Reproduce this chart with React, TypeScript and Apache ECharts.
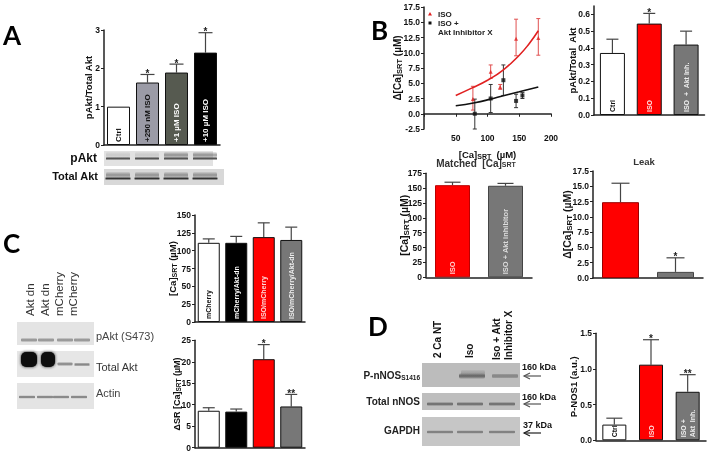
import React, { useEffect, useRef } from "react";
import * as echarts from "echarts";

const FONT = "'Liberation Sans', Arial, sans-serif";

// Panel A
const aCats = ["Ctrl", "+250 nM ISO", "+1 µM ISO", "+10 µM ISO"];
const aVals = [1.0, 1.63, 1.89, 2.41];
const aTops = [1.0, 1.84, 2.11, 2.93];
const aStars = ["", "*", "*", "*"];
// Panel B curve
const bRedCurveX = [50, 75, 100, 125, 150, 165, 180];
const bRedCurveY = [3.0, 4.2, 5.5, 7.2, 9.6, 11.4, 13.6];
const bBlackCurveX = [50, 80, 105, 125, 150, 180];
const bBlackCurveY = [1.3, 1.8, 2.4, 2.95, 3.6, 4.4];
const bRedX = [77, 105, 120, 145, 180];
const bRedY = [2.4, 6.9, 4.4, 12.3, 12.4];
const bRedLow = [0.6, 5.8, 4.0, 9.5, 9.6];
const bRedHigh = [4.5, 8.0, 4.8, 15.5, 15.6];
const bBlackX = [80, 105, 125, 145, 155];
const bBlackY = [0.0, 2.5, 5.5, 2.1, 3.0];
const bBlackLow = [-2.5, 0.2, 3.0, 1.0, 2.5];
const bBlackHigh = [2.4, 4.8, 8.0, 3.2, 3.5];
// Panel B bars
const b2Cats = ["Ctrl", "ISO", "ISO  +  Akt Inh."];
const b2Vals = [0.37, 0.545, 0.42];
const b2Tops = [0.452, 0.606, 0.5];
const b2Stars = ["", "*", ""];
const mCats = ["ISO", "ISO + Akt inhibitor"];
const mVals = [155, 154];
const mTops = [160, 158];
const lVals = [12.4, 1.0];
const lTops = [15.5, 3.3];
const lStars = ["", "*"];
// Panel C
const cCats = ["mCherry", "mCherry/Akt-dn", "ISO/mCherry", "ISO/mCherry/Akt-dn"];
const cVals = [111, 111, 119, 115];
const cTops = [116.5, 120, 139, 133];
const c2Vals = [8.6, 8.4, 20.6, 9.6];
const c2Tops = [9.3, 9.0, 24, 12.4];
const c2Stars = ["", "", "*", "**"];
// Panel D
const dCats = ["Ctrl", "ISO", "ISO +\nAkt  Inh."];
const dVals = [0.22, 1.06, 0.68];
const dTops = [0.31, 1.41, 0.92];
const dStars = ["", "*", "**"];

const WHITE = "#ffffff", RED = "#ff0000", GRAY = "#777777", BLACK = "#000000";

function App() {
  const ref = useRef<HTMLDivElement>(null);
  useEffect(() => {
    const chart = echarts.init(ref.current!, undefined, { renderer: "svg" });

    const grid: any[] = [], xAxis: any[] = [], yAxis: any[] = [], series: any[] = [];
    const axisLine = { show: true, lineStyle: { color: "#222", width: 1.5 } };
    const axisTick = { show: true, length: 3, lineStyle: { color: "#222", width: 1 } };
    const rich = (fs: number) => ({
      s: { fontSize: fs - 2.5, fontWeight: "bold", fontFamily: FONT, color: "#111", padding: [4, 0, 0, 0] },
    });

    function barPanel(o: any) {
      const i = grid.length;
      grid.push({ left: o.left, top: o.top, width: o.width, height: o.height, containLabel: false });
      xAxis.push({
        gridIndex: i, type: "category", data: o.vals.map((_: any, k: number) => (o.cats ? o.cats[k] : String(k))),
        axisLine, axisTick: { show: false }, axisLabel: { show: false },
      });
      const fmt = (v: number) => (o.digits ? v.toFixed(o.digits) : String(v));
      const custom = o.ticks
        ? { customValues: o.ticks }
        : {};
      yAxis.push({
        gridIndex: i, type: "value", min: 0, max: o.max, interval: o.interval,
        splitLine: { show: false }, axisLine, axisTick: { ...axisTick, ...custom },
        axisLabel: { ...custom, fontFamily: FONT, fontWeight: "bold", fontSize: 8.5, color: "#111", margin: 4, formatter: fmt },
        name: o.name, nameLocation: "middle", nameGap: o.nameGap, nameRotate: 90, nameMoveOverlap: false,
        nameTextStyle: { fontFamily: FONT, fontWeight: "bold", fontSize: o.nameSize || 10, color: "#111", rich: rich(o.nameSize || 10) },
      });
      series.push({
        type: "bar", xAxisIndex: i, yAxisIndex: i, barWidth: o.barWidth, silent: true,
        data: o.vals.map((v: number, k: number) => ({
          value: v,
          itemStyle: { color: o.colors[k], borderColor: o.borders ? o.borders[k] : "#111", borderWidth: 1 },
          label: {
            show: !!o.cats, position: "insideBottom", rotate: 90, align: "left", verticalAlign: "middle", distance: 3,
            fontFamily: FONT, fontWeight: "bold", fontSize: o.labelSize || 8, lineHeight: 9,
            color: o.labelColors ? o.labelColors[k] : "#fff",
            formatter: o.cats ? o.cats[k] : "",
          },
        })),
      });
      series.push({
        type: "custom", xAxisIndex: i, yAxisIndex: i, silent: true, z: 1,
        data: o.vals.map((v: number, k: number) => [k, v, o.tops[k]]),
        encode: { x: 0, y: 2 },
        renderItem: (p: any, api: any) => {
          const k = p.dataIndex;
          const a = api.coord([api.value(0), api.value(1)]);
          const b = api.coord([api.value(0), api.value(2)]);
          const col = o.errColors ? o.errColors[k] : "#444";
          const st = { stroke: col, lineWidth: 1.2 };
          const ch: any[] = [];
          if (api.value(2) > api.value(1)) {
            ch.push({ type: "line", shape: { x1: a[0], y1: a[1], x2: b[0], y2: b[1] }, style: st });
            ch.push({ type: "line", shape: { x1: a[0] - o.cap, y1: b[1], x2: a[0] + o.cap, y2: b[1] }, style: st });
          }
          if (o.stars && o.stars[k]) {
            ch.push({ type: "text", style: { text: o.stars[k], x: a[0], y: b[1] - 1, align: "center", verticalAlign: "middle", fill: "#222", font: `bold 10px ${FONT}` } });
          }
          return { type: "group", children: ch };
        },
      });
    }

    barPanel({ left: 104, top: 30, width: 116, height: 115, max: 3, interval: 1, cats: aCats, vals: aVals, tops: aTops, stars: aStars,
      colors: [WHITE, "#9b9ba6", "#565a50", BLACK], labelColors: ["#111", "#111", "#fff", "#fff"], barWidth: 23, cap: 7,
      name: "pAkt/Total Akt", nameGap: 11, nameSize: 9.5, labelSize: 8 });
    barPanel({ left: 594, top: 6, width: 110.5, height: 109, max: 0.65, interval: 0.1, ticks: [0, 0.1, 0.2, 0.3, 0.4, 0.5, 0.6], digits: 1,
      cats: b2Cats, vals: b2Vals, tops: b2Tops, stars: b2Stars, colors: [WHITE, RED, GRAY], labelColors: ["#111", "#ffe0e0", "#eee"],
      barWidth: 25, cap: 6, name: "pAkt/Total  Akt", nameGap: 17, nameSize: 9.5, labelSize: 7 });
    barPanel({ left: 426, top: 173.3, width: 106, height: 104, max: 175, interval: 25, cats: mCats, vals: mVals, tops: mTops,
      colors: [RED, GRAY], labelColors: ["#ffd0d0", "#ddd"], barWidth: 35, cap: 8, borders: ["#b00", "#444"],
      name: "[Ca]{s|SRT} (µM)", nameGap: 16, nameSize: 10.5, labelSize: 7.5 });
    barPanel({ left: 593, top: 171, width: 110, height: 107, max: 17.5, interval: 2.5, digits: 1, vals: lVals, tops: lTops, stars: lStars,
      colors: [RED, GRAY], barWidth: 37, cap: 9, borders: ["#900", "#444"],
      name: "Δ[Ca]{s|SRT} (µM)", nameGap: 20, nameSize: 10.5 });
    barPanel({ left: 195, top: 215, width: 110, height: 107, max: 150, interval: 25, cats: cCats, vals: cVals, tops: cTops,
      colors: [WHITE, BLACK, RED, GRAY], labelColors: ["#111", "#fff", "#ffd8d8", "#eee"], barWidth: 22, cap: 6,
      name: "[Ca]{s|SRT} (µM)", nameGap: 17, nameSize: 9.5, labelSize: 7 });
    barPanel({ left: 195, top: 340.3, width: 110, height: 107.4, max: 25, interval: 5, vals: c2Vals, tops: c2Tops, stars: c2Stars,
      colors: [WHITE, BLACK, RED, GRAY], barWidth: 22, cap: 6,
      name: "ΔSR [Ca]{s|SRT} (µM)", nameGap: 13, nameSize: 9 });
    barPanel({ left: 596, top: 333.3, width: 110, height: 107, max: 1.5, interval: 0.5, digits: 1, cats: dCats, vals: dVals, tops: dTops, stars: dStars,
      colors: [WHITE, RED, GRAY], labelColors: ["#111", "#ffd8d8", "#eee"], barWidth: 24, cap: 8,
      name: "P-NOS1 (a.u.)", nameGap: 18, nameSize: 9.5, labelSize: 7 });

    // Scatter panel B
    const si = grid.length;
    grid.push({ left: 424, top: 7, width: 127, height: 122 });
    xAxis.push({
      gridIndex: si, type: "value", min: 0, max: 200, interval: 50, splitLine: { show: false },
      axisLine: { ...axisLine, onZero: true }, axisTick,
      axisLabel: { fontFamily: FONT, fontWeight: "bold", fontSize: 8.5, color: "#111", margin: 4, formatter: (v: number) => (v === 0 ? "" : String(v)) },
      name: "[Ca]{s|SRT}  (µM)", nameLocation: "middle", nameGap: 20, nameMoveOverlap: false,
      nameTextStyle: { fontFamily: FONT, fontWeight: "bold", fontSize: 9.5, color: "#111", rich: rich(9.5) },
    });
    yAxis.push({
      gridIndex: si, type: "value", min: -2.5, max: 17.5, interval: 2.5, splitLine: { show: false },
      axisLine: { ...axisLine, onZero: false }, axisTick,
      axisLabel: { fontFamily: FONT, fontWeight: "bold", fontSize: 8.5, color: "#111", margin: 4, formatter: (v: number) => v.toFixed(1) },
      name: "Δ[Ca]{s|SRT} (µM)", nameLocation: "middle", nameGap: 21, nameRotate: 90, nameMoveOverlap: false,
      nameTextStyle: { fontFamily: FONT, fontWeight: "bold", fontSize: 10, color: "#111", rich: rich(10) },
    });
    const curve = (xs: number[], ys: number[], color: string) => ({
      type: "line", xAxisIndex: si, yAxisIndex: si, smooth: true, showSymbol: false, silent: true,
      lineStyle: { color, width: 1.6 }, data: xs.map((x, k) => [x, ys[k]]),
    });
    const errs = (xs: number[], lo: number[], hi: number[], color: string) => ({
      type: "custom", xAxisIndex: si, yAxisIndex: si, silent: true,
      data: xs.map((x, k) => [x, lo[k], hi[k]]), encode: { x: 0, y: [1, 2] },
      renderItem: (_: any, api: any) => {
        const a = api.coord([api.value(0), api.value(1)]);
        const b = api.coord([api.value(0), api.value(2)]);
        const st = { stroke: color, lineWidth: 1 };
        return { type: "group", children: [
          { type: "line", shape: { x1: a[0], y1: a[1], x2: b[0], y2: b[1] }, style: st },
          { type: "line", shape: { x1: a[0] - 2, y1: a[1], x2: a[0] + 2, y2: a[1] }, style: st },
          { type: "line", shape: { x1: a[0] - 2, y1: b[1], x2: a[0] + 2, y2: b[1] }, style: st },
        ] };
      },
    });
    const pts = (xs: number[], ys: number[], color: string, symbol: string, size: number) => ({
      type: "scatter", xAxisIndex: si, yAxisIndex: si, silent: true, symbol, symbolSize: size,
      itemStyle: { color }, data: xs.map((x, k) => [x, ys[k]]),
    });
    series.push(
      curve(bRedCurveX, bRedCurveY, "#e02020"),
      curve(bBlackCurveX, bBlackCurveY, "#111"),
      errs(bRedX, bRedLow, bRedHigh, "#e05050"),
      errs(bBlackX, bBlackLow, bBlackHigh, "#333"),
      pts(bRedX, bRedY, "#e02020", "triangle", 4),
      pts(bBlackX, bBlackY, "#111", "rect", 4),
    );

    // ---- free graphics: blots, labels, panel letters
    const g: any[] = [];
    const letter = (t: string, x: number, y: number) =>
      g.push({ type: "text", x, y, style: { text: t, fill: "#000", font: `bold 26px Lato, ${FONT}`, align: "left", verticalAlign: "middle" } });
    const txt = (t: string, x: number, y: number, font: string, align = "left", fill = "#111", rot = 0) =>
      g.push({ type: "text", x, y, rotation: rot, style: { text: t, font, fill, align, verticalAlign: "middle" } });
    const box = (x: number, y: number, w: number, h: number, fill: string) =>
      g.push({ type: "rect", shape: { x, y, width: w, height: h }, style: { fill } });
    const band = (cx: number, cy: number, w: number, h: number, dark: string) =>
      g.push({
        type: "rect", shape: { x: cx - w / 2, y: cy - h / 2, width: w, height: h, r: h / 3 },
        style: {
          fill: new echarts.graphic.LinearGradient(0, 0, 0, 1, [
            { offset: 0, color: "rgba(60,60,60,0)" }, { offset: 0.5, color: dark }, { offset: 1, color: "rgba(60,60,60,0)" },
          ]),
        },
      });
    const R90 = Math.PI / 2;

    letter("A", 3, 35); letter("B", 371, 30); letter("C", 3, 243); letter("D", 368, 326);

    // A blots
    box(104, 151, 109, 15, "#e2e2e2");
    [118, 147, 176, 205].forEach((c, k) => {
      band(c, 158.5, 24, 4, "#555");
      band(c, 155, 24, 7, k > 1 ? "rgba(80,80,80,.55)" : "rgba(110,110,110,.2)");
    });
    box(104, 169, 120, 16, "#d8d8d8");
    [118, 147, 176, 205].forEach((c) => { band(c, 178.5, 25, 4, "#333"); band(c, 175, 24, 7, "rgba(90,90,90,.55)"); });
    txt("pAkt", 97, 158, `bold 12px ${FONT}`, "right");
    txt("Total Akt", 98, 176, `bold 11px ${FONT}`, "right");

    // C blots
    box(17, 322, 77, 23, "#e4e4e4");
    [29, 46, 65, 82].forEach((c) => band(c, 340, 16, 4, "#999"));
    box(17, 351, 77, 26, "#e6e6e6");
    band(65, 364, 15, 4, "#888"); band(82, 364.5, 15, 4, "#888");
    g.push({ type: "rect", shape: { x: 21, y: 352, width: 16, height: 15, r: 5 }, style: { fill: "#0c0c0c", shadowBlur: 3, shadowColor: "#222" } });
    g.push({ type: "rect", shape: { x: 41, y: 352, width: 14, height: 15, r: 5 }, style: { fill: "#0c0c0c", shadowBlur: 3, shadowColor: "#222" } });
    box(17, 383, 77, 26, "#e4e4e4");
    [27, 45, 61, 79].forEach((c) => band(c, 397, 16, 3.5, "#777"));
    [["Akt dn", 30], ["Akt dn", 45], ["mCherry", 59], ["mCherry", 73]].forEach(([t, x]) =>
      txt(t as string, x as number, 316, `11.5px ${FONT}`, "left", "#333", R90));
    txt("pAkt (S473)", 96, 336, `11px ${FONT}`, "left", "#444");
    txt("Total Akt", 96, 367, `11px ${FONT}`, "left", "#333");
    txt("Actin", 96, 393, `11px ${FONT}`, "left", "#444");

    // D blots
    box(422, 363, 98, 24, "#bcbcbc");
    band(472, 376, 26, 6, "#666"); band(473, 373, 24, 7, "rgba(110,110,110,.35)");
    band(505, 376, 26, 5, "#8c8c8c");
    box(422, 393, 98, 17, "#bebebe");
    [440, 470, 502].forEach((c) => band(c, 404, 26, 4, "#666"));
    box(422, 417, 98, 29, "#c6c6c6");
    [440, 470, 502].forEach((c) => band(c, 432, 26, 3.5, "#777"));
    g.push({
      type: "text", x: 420, y: 375,
      style: { text: "P-nNOS{s|S1416}", font: `bold 10px ${FONT}`, fill: "#222", align: "right", verticalAlign: "middle",
        rich: { s: { font: `bold 6.5px ${FONT}`, fill: "#222", padding: [4, 0, 0, 0] } } },
    });
    txt("Total nNOS", 420, 401, `bold 10px ${FONT}`, "right", "#222");
    txt("GAPDH", 420, 430, `bold 10px ${FONT}`, "right", "#222");
    txt("160 kDa", 522, 367, `bold 9px ${FONT}`);
    txt("160 kDa", 522, 397, `bold 9px ${FONT}`);
    txt("37 kDa", 523, 425, `bold 9px ${FONT}`);
    [[376, "#555"], [404, "#555"], [433, "#222"]].forEach(([y, c]) => {
      g.push({ type: "line", shape: { x1: 524, y1: y, x2: 541, y2: y }, style: { stroke: c, lineWidth: 1.2 } });
      g.push({ type: "polyline", shape: { points: [[530, (y as number) - 3], [524, y], [530, (y as number) + 3]] }, style: { stroke: c, lineWidth: 1.2, fill: "none" } });
    });
    [["2 Ca NT", 437, 358], ["Iso", 469, 358], ["Iso + Akt", 496, 360], ["Inhibitor X", 508, 360]].forEach(([t, x, y]) =>
      txt(t as string, x as number, y as number, `bold 10px ${FONT}`, "left", "#111", R90));

    // B legend and titles
    g.push({ type: "polygon", shape: { points: [[430, 12], [432, 15.5], [428, 15.5]] }, style: { fill: "#e02020" } });
    g.push({ type: "rect", shape: { x: 428.5, y: 21.5, width: 3, height: 3 }, style: { fill: "#111" } });
    txt("ISO", 438, 14, `bold 8px ${FONT}`, "left", "#222");
    txt("ISO +", 438, 23, `bold 8px ${FONT}`, "left", "#222");
    txt("Akt Inhibitor X", 438, 32, `bold 8px ${FONT}`, "left", "#222");
    g.push({
      type: "text", x: 476, y: 163,
      style: { text: "Matched  [Ca]{s|SRT}", font: `bold 10px ${FONT}`, fill: "#333", align: "center", verticalAlign: "middle",
        rich: { s: { font: `bold 7px ${FONT}`, fill: "#333", padding: [3, 0, 0, 0] } } },
    });
    txt("Leak", 644, 161, `bold 9.5px ${FONT}`, "center", "#333");

    chart.setOption({
      animation: false, backgroundColor: "#ffffff",
      grid, xAxis, yAxis, series, graphic: { elements: g },
    });
    return () => chart.dispose();
  }, []);
  return <div ref={ref} style={{ position: "absolute", left: 0, top: 0, width: 711, height: 455, filter: "blur(0.4px)" }} />;
}

export default App;
